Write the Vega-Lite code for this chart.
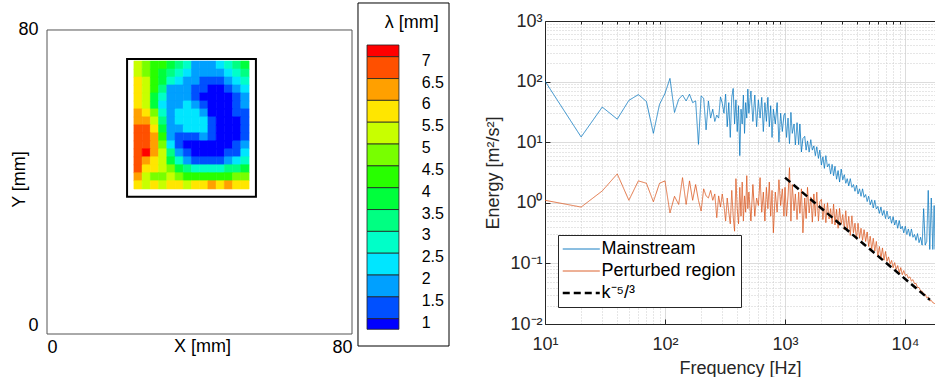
{
"$schema": "https://vega.github.io/schema/vega-lite/v6.json",
"autosize": {"type": "pad"},
"padding": {"left": 10, "top": 2, "right": 0, "bottom": 0},
"background": "white",
"bounds": "flush",
"spacing": 0,
"config": {"font": "Liberation Sans", "view": {"stroke": null}, "axis": {"labelFont": "Liberation Sans", "titleFont": "Liberation Sans", "titleFontWeight": "normal"}},
"datasets": {
"heat": [
{"x":23.88,"y":70.75,"v":5.2},{"x":26.04,"y":70.75,"v":4.8},{"x":28.19,"y":70.75,"v":4.3},{"x":30.35,"y":70.75,"v":4.0},{"x":32.51,"y":70.75,"v":3.6},{"x":34.67,"y":70.75,"v":3.1},{"x":36.82,"y":70.75,"v":2.6},{"x":38.98,"y":70.75,"v":1.9},{"x":41.14,"y":70.75,"v":1.8},{"x":43.29,"y":70.75,"v":1.9},{"x":45.45,"y":70.75,"v":2.3},{"x":47.61,"y":70.75,"v":2.8},{"x":49.77,"y":70.75,"v":3.3},{"x":51.92,"y":70.75,"v":3.8},
{"x":23.88,"y":68.65,"v":5.4},{"x":26.04,"y":68.65,"v":4.9},{"x":28.19,"y":68.65,"v":4.4},{"x":30.35,"y":68.65,"v":3.8},{"x":32.51,"y":68.65,"v":3.2},{"x":34.67,"y":68.65,"v":2.7},{"x":36.82,"y":68.65,"v":2.2},{"x":38.98,"y":68.65,"v":1.8},{"x":41.14,"y":68.65,"v":1.6},{"x":43.29,"y":68.65,"v":1.6},{"x":45.45,"y":68.65,"v":1.8},{"x":47.61,"y":68.65,"v":2.2},{"x":49.77,"y":68.65,"v":2.8},{"x":51.92,"y":68.65,"v":3.4},
{"x":23.88,"y":66.55,"v":5.7},{"x":26.04,"y":66.55,"v":5.1},{"x":28.19,"y":66.55,"v":4.4},{"x":30.35,"y":66.55,"v":3.5},{"x":32.51,"y":66.55,"v":2.8},{"x":34.67,"y":66.55,"v":2.1},{"x":36.82,"y":66.55,"v":1.7},{"x":38.98,"y":66.55,"v":1.6},{"x":41.14,"y":66.55,"v":1.3},{"x":43.29,"y":66.55,"v":1.2},{"x":45.45,"y":66.55,"v":1.3},{"x":47.61,"y":66.55,"v":1.7},{"x":49.77,"y":66.55,"v":2.2},{"x":51.92,"y":66.55,"v":2.8},
{"x":23.88,"y":64.45,"v":5.8},{"x":26.04,"y":64.45,"v":5.2},{"x":28.19,"y":64.45,"v":4.3},{"x":30.35,"y":64.45,"v":3.0},{"x":32.51,"y":64.45,"v":1.9},{"x":34.67,"y":64.45,"v":1.7},{"x":36.82,"y":64.45,"v":1.6},{"x":38.98,"y":64.45,"v":1.4},{"x":41.14,"y":64.45,"v":1.2},{"x":43.29,"y":64.45,"v":0.9},{"x":45.45,"y":64.45,"v":0.9},{"x":47.61,"y":64.45,"v":1.2},{"x":49.77,"y":64.45,"v":1.8},{"x":51.92,"y":64.45,"v":2.3},
{"x":23.88,"y":62.35,"v":5.8},{"x":26.04,"y":62.35,"v":5.0},{"x":28.19,"y":62.35,"v":3.9},{"x":30.35,"y":62.35,"v":2.6},{"x":32.51,"y":62.35,"v":1.8},{"x":34.67,"y":62.35,"v":1.7},{"x":36.82,"y":62.35,"v":1.7},{"x":38.98,"y":62.35,"v":1.4},{"x":41.14,"y":62.35,"v":0.95},{"x":43.29,"y":62.35,"v":0.8},{"x":45.45,"y":62.35,"v":0.8},{"x":47.61,"y":62.35,"v":0.9},{"x":49.77,"y":62.35,"v":1.3},{"x":51.92,"y":62.35,"v":1.8},
{"x":23.88,"y":60.25,"v":5.7},{"x":26.04,"y":60.25,"v":5.0},{"x":28.19,"y":60.25,"v":3.5},{"x":30.35,"y":60.25,"v":2.3},{"x":32.51,"y":60.25,"v":1.7},{"x":34.67,"y":60.25,"v":1.8},{"x":36.82,"y":60.25,"v":2.0},{"x":38.98,"y":60.25,"v":1.7},{"x":41.14,"y":60.25,"v":1.2},{"x":43.29,"y":60.25,"v":0.8},{"x":45.45,"y":60.25,"v":0.7},{"x":47.61,"y":60.25,"v":0.8},{"x":49.77,"y":60.25,"v":1.1},{"x":51.92,"y":60.25,"v":1.6},
{"x":23.88,"y":58.15,"v":6.1},{"x":26.04,"y":58.15,"v":5.6},{"x":28.19,"y":58.15,"v":4.5},{"x":30.35,"y":58.15,"v":2.8},{"x":32.51,"y":58.15,"v":1.8},{"x":34.67,"y":58.15,"v":2.1},{"x":36.82,"y":58.15,"v":2.4},{"x":38.98,"y":58.15,"v":2.3},{"x":41.14,"y":58.15,"v":1.6},{"x":43.29,"y":58.15,"v":0.9},{"x":45.45,"y":58.15,"v":0.7},{"x":47.61,"y":58.15,"v":0.7},{"x":49.77,"y":58.15,"v":1.0},{"x":51.92,"y":58.15,"v":1.4},
{"x":23.88,"y":56.05,"v":6.4},{"x":26.04,"y":56.05,"v":6.2},{"x":28.19,"y":56.05,"v":5.2},{"x":30.35,"y":56.05,"v":3.3},{"x":32.51,"y":56.05,"v":1.8},{"x":34.67,"y":56.05,"v":2.3},{"x":36.82,"y":56.05,"v":2.4},{"x":38.98,"y":56.05,"v":2.3},{"x":41.14,"y":56.05,"v":2.0},{"x":43.29,"y":56.05,"v":1.2},{"x":45.45,"y":56.05,"v":0.7},{"x":47.61,"y":56.05,"v":0.7},{"x":49.77,"y":56.05,"v":0.9},{"x":51.92,"y":56.05,"v":1.3},
{"x":23.88,"y":53.95,"v":6.8},{"x":26.04,"y":53.95,"v":6.6},{"x":28.19,"y":53.95,"v":5.6},{"x":30.35,"y":53.95,"v":3.6},{"x":32.51,"y":53.95,"v":1.5},{"x":34.67,"y":53.95,"v":1.6},{"x":36.82,"y":53.95,"v":2.2},{"x":38.98,"y":53.95,"v":2.3},{"x":41.14,"y":53.95,"v":2.2},{"x":43.29,"y":53.95,"v":1.3},{"x":45.45,"y":53.95,"v":0.8},{"x":47.61,"y":53.95,"v":0.7},{"x":49.77,"y":53.95,"v":0.9},{"x":51.92,"y":53.95,"v":1.3},
{"x":23.88,"y":51.85,"v":6.9},{"x":26.04,"y":51.85,"v":6.8},{"x":28.19,"y":51.85,"v":6.0},{"x":30.35,"y":51.85,"v":4.0},{"x":32.51,"y":51.85,"v":1.8},{"x":34.67,"y":51.85,"v":1.2},{"x":36.82,"y":51.85,"v":1.2},{"x":38.98,"y":51.85,"v":1.4},{"x":41.14,"y":51.85,"v":1.5},{"x":43.29,"y":51.85,"v":1.0},{"x":45.45,"y":51.85,"v":0.8},{"x":47.61,"y":51.85,"v":0.7},{"x":49.77,"y":51.85,"v":0.9},{"x":51.92,"y":51.85,"v":1.4},
{"x":23.88,"y":49.75,"v":6.9},{"x":26.04,"y":49.75,"v":6.9},{"x":28.19,"y":49.75,"v":6.3},{"x":30.35,"y":49.75,"v":4.6},{"x":32.51,"y":49.75,"v":2.3},{"x":34.67,"y":49.75,"v":1.3},{"x":36.82,"y":49.75,"v":0.9},{"x":38.98,"y":49.75,"v":0.8},{"x":41.14,"y":49.75,"v":0.8},{"x":43.29,"y":49.75,"v":0.8},{"x":45.45,"y":49.75,"v":0.7},{"x":47.61,"y":49.75,"v":0.8},{"x":49.77,"y":49.75,"v":1.0},{"x":51.92,"y":49.75,"v":1.6},
{"x":23.88,"y":47.65,"v":6.8},{"x":26.04,"y":47.65,"v":7.2},{"x":28.19,"y":47.65,"v":6.2},{"x":30.35,"y":47.65,"v":5.0},{"x":32.51,"y":47.65,"v":3.0},{"x":34.67,"y":47.65,"v":1.6},{"x":36.82,"y":47.65,"v":1.1},{"x":38.98,"y":47.65,"v":0.9},{"x":41.14,"y":47.65,"v":0.9},{"x":43.29,"y":47.65,"v":0.9},{"x":45.45,"y":47.65,"v":0.9},{"x":47.61,"y":47.65,"v":1.0},{"x":49.77,"y":47.65,"v":1.3},{"x":51.92,"y":47.65,"v":2.0},
{"x":23.88,"y":45.55,"v":6.7},{"x":26.04,"y":45.55,"v":6.4},{"x":28.19,"y":45.55,"v":5.9},{"x":30.35,"y":45.55,"v":5.3},{"x":32.51,"y":45.55,"v":3.8},{"x":34.67,"y":45.55,"v":2.6},{"x":36.82,"y":45.55,"v":1.8},{"x":38.98,"y":45.55,"v":1.4},{"x":41.14,"y":45.55,"v":1.3},{"x":43.29,"y":45.55,"v":1.3},{"x":45.45,"y":45.55,"v":1.4},{"x":47.61,"y":45.55,"v":1.6},{"x":49.77,"y":45.55,"v":2.0},{"x":51.92,"y":45.55,"v":2.6},
{"x":23.88,"y":43.45,"v":6.5},{"x":26.04,"y":43.45,"v":5.8},{"x":28.19,"y":43.45,"v":5.5},{"x":30.35,"y":43.45,"v":5.2},{"x":32.51,"y":43.45,"v":4.6},{"x":34.67,"y":43.45,"v":3.9},{"x":36.82,"y":43.45,"v":3.3},{"x":38.98,"y":43.45,"v":2.9},{"x":41.14,"y":43.45,"v":2.7},{"x":43.29,"y":43.45,"v":2.7},{"x":45.45,"y":43.45,"v":2.9},{"x":47.61,"y":43.45,"v":3.1},{"x":49.77,"y":43.45,"v":3.4},{"x":51.92,"y":43.45,"v":3.7},
{"x":23.88,"y":41.35,"v":6.2},{"x":26.04,"y":41.35,"v":5.0},{"x":28.19,"y":41.35,"v":4.8},{"x":30.35,"y":41.35,"v":4.6},{"x":32.51,"y":41.35,"v":5.0},{"x":34.67,"y":41.35,"v":4.6},{"x":36.82,"y":41.35,"v":4.3},{"x":38.98,"y":41.35,"v":4.1},{"x":41.14,"y":41.35,"v":4.0},{"x":43.29,"y":41.35,"v":4.0},{"x":45.45,"y":41.35,"v":4.2},{"x":47.61,"y":41.35,"v":4.4},{"x":49.77,"y":41.35,"v":4.6},{"x":51.92,"y":41.35,"v":4.9},
{"x":23.88,"y":39.25,"v":5.8},{"x":26.04,"y":39.25,"v":5.3},{"x":28.19,"y":39.25,"v":5.6},{"x":30.35,"y":39.25,"v":5.2},{"x":32.51,"y":39.25,"v":5.6},{"x":34.67,"y":39.25,"v":5.8},{"x":36.82,"y":39.25,"v":5.3},{"x":38.98,"y":39.25,"v":5.5},{"x":41.14,"y":39.25,"v":5.8},{"x":43.29,"y":39.25,"v":6.1},{"x":45.45,"y":39.25,"v":5.7},{"x":47.61,"y":39.25,"v":6.2},{"x":49.77,"y":39.25,"v":5.6},{"x":51.92,"y":39.25,"v":5.9}
],
"bar": [
{"lo":7,"hi":7.268},{"lo":6.5,"hi":7},{"lo":6,"hi":6.5},{"lo":5.5,"hi":6},{"lo":5,"hi":5.5},{"lo":4.5,"hi":5},{"lo":4,"hi":4.5},{"lo":3.5,"hi":4},{"lo":3,"hi":3.5},{"lo":2.5,"hi":3},{"lo":2,"hi":2.5},{"lo":1.5,"hi":2},{"lo":1,"hi":1.5},{"lo":0.758,"hi":1}
],
"ticks": [
{"t":"7","v":7},{"t":"6.5","v":6.5},{"t":"6","v":6},{"t":"5.5","v":5.5},{"t":"5","v":5},{"t":"4.5","v":4.5},{"t":"4","v":4},{"t":"3.5","v":3.5},{"t":"3","v":3},{"t":"2.5","v":2.5},{"t":"2","v":2},{"t":"1.5","v":1.5},{"t":"1","v":1}
],
"slope": [
{"f":1000,"E":2.6,"series":"k⁻⁵/³"},{"f":16150,"E":0.025,"series":"k⁻⁵/³"}
],
"spec": [
{"f":10,"Mainstream":102,"Perturbed region":1.1},
{"f":20,"Mainstream":12.2,"Perturbed region":0.85},
{"f":30,"Mainstream":38,"Perturbed region":1.57},
{"f":40,"Mainstream":24,"Perturbed region":3.0},
{"f":50,"Mainstream":49,"Perturbed region":1.1},
{"f":60,"Mainstream":61,"Perturbed region":2.3},
{"f":70,"Mainstream":47,"Perturbed region":2.1},
{"f":80,"Mainstream":14,"Perturbed region":1.04},
{"f":90,"Mainstream":42,"Perturbed region":2.1},
{"f":100,"Mainstream":64,"Perturbed region":2.3},
{"f":110,"Mainstream":113,"Perturbed region":0.68},
{"f":120,"Mainstream":31,"Perturbed region":1.28},
{"f":130,"Mainstream":51,"Perturbed region":0.94},
{"f":140,"Mainstream":60,"Perturbed region":2.6},
{"f":150,"Mainstream":48,"Perturbed region":0.94},
{"f":160,"Mainstream":62,"Perturbed region":2.3},
{"f":170,"Mainstream":45,"Perturbed region":1.1},
{"f":180,"Mainstream":48,"Perturbed region":2.0},
{"f":190,"Mainstream":9.2,"Perturbed region":1.1},
{"f":200,"Mainstream":58,"Perturbed region":0.73},
{"f":210,"Mainstream":53,"Perturbed region":1.7},
{"f":220,"Mainstream":16,"Perturbed region":1.3},
{"f":230,"Mainstream":48,"Perturbed region":1.2},
{"f":240,"Mainstream":25,"Perturbed region":1.6},
{"f":250,"Mainstream":35,"Perturbed region":1.1},
{"f":260,"Mainstream":22,"Perturbed region":1.4},
{"f":270,"Mainstream":28,"Perturbed region":0.57},
{"f":280,"Mainstream":25,"Perturbed region":1.3},
{"f":290,"Mainstream":56,"Perturbed region":0.85},
{"f":300,"Mainstream":44,"Perturbed region":1.4},
{"f":310,"Mainstream":30,"Perturbed region":0.9},
{"f":320,"Mainstream":62,"Perturbed region":0.5},
{"f":330,"Mainstream":18,"Perturbed region":1.2},
{"f":340,"Mainstream":45,"Perturbed region":0.7},
{"f":350,"Mainstream":12,"Perturbed region":0.45},
{"f":360,"Mainstream":55,"Perturbed region":1.6},
{"f":370,"Mainstream":77,"Perturbed region":0.6},
{"f":380,"Mainstream":20,"Perturbed region":0.34},
{"f":390,"Mainstream":50,"Perturbed region":2.5},
{"f":400,"Mainstream":15,"Perturbed region":0.8},
{"f":410,"Mainstream":40,"Perturbed region":0.45},
{"f":420,"Mainstream":6,"Perturbed region":1.8},
{"f":430,"Mainstream":35,"Perturbed region":0.6},
{"f":440,"Mainstream":20,"Perturbed region":2.2},
{"f":450,"Mainstream":60,"Perturbed region":0.5},
{"f":460,"Mainstream":14,"Perturbed region":1.3},
{"f":470,"Mainstream":45,"Perturbed region":0.7},
{"f":480,"Mainstream":25,"Perturbed region":2.8},
{"f":490,"Mainstream":75,"Perturbed region":0.8},
{"f":500,"Mainstream":30,"Perturbed region":1.5},
{"f":520,"Mainstream":70,"Perturbed region":0.5},
{"f":540,"Mainstream":22,"Perturbed region":2.0},
{"f":560,"Mainstream":60,"Perturbed region":0.6},
{"f":580,"Mainstream":18,"Perturbed region":1.2},
{"f":600,"Mainstream":50,"Perturbed region":0.9},
{"f":620,"Mainstream":25,"Perturbed region":2.6},
{"f":640,"Mainstream":55,"Perturbed region":0.7},
{"f":660,"Mainstream":15,"Perturbed region":1.5},
{"f":680,"Mainstream":45,"Perturbed region":0.5},
{"f":700,"Mainstream":22,"Perturbed region":1.8},
{"f":720,"Mainstream":55,"Perturbed region":0.8},
{"f":740,"Mainstream":18,"Perturbed region":2.2},
{"f":760,"Mainstream":40,"Perturbed region":0.6},
{"f":780,"Mainstream":12,"Perturbed region":1.6},
{"f":800,"Mainstream":35,"Perturbed region":0.32},
{"f":830,"Mainstream":20,"Perturbed region":1.5},
{"f":860,"Mainstream":45,"Perturbed region":0.7},
{"f":890,"Mainstream":10,"Perturbed region":2.4},
{"f":920,"Mainstream":30,"Perturbed region":0.9},
{"f":950,"Mainstream":15,"Perturbed region":1.7},
{"f":980,"Mainstream":28,"Perturbed region":0.6},
{"f":1000,"Mainstream":30,"Perturbed region":1.8},
{"f":1030,"Mainstream":12,"Perturbed region":0.6},
{"f":1060,"Mainstream":25,"Perturbed region":1.3},
{"f":1090,"Mainstream":9.5,"Perturbed region":3.8},
{"f":1120,"Mainstream":31,"Perturbed region":0.5},
{"f":1150,"Mainstream":14,"Perturbed region":2.0},
{"f":1190,"Mainstream":20,"Perturbed region":0.74},
{"f":1220,"Mainstream":9,"Perturbed region":1.4},
{"f":1260,"Mainstream":21,"Perturbed region":0.53},
{"f":1300,"Mainstream":9.1,"Perturbed region":1.5},
{"f":1330,"Mainstream":20,"Perturbed region":0.67},
{"f":1370,"Mainstream":6.9,"Perturbed region":1.7},
{"f":1410,"Mainstream":11.5,"Perturbed region":0.32},
{"f":1460,"Mainstream":12.5,"Perturbed region":1.2},
{"f":1500,"Mainstream":7.4,"Perturbed region":0.55},
{"f":1540,"Mainstream":10.5,"Perturbed region":1.8},
{"f":1590,"Mainstream":6.9,"Perturbed region":0.68},
{"f":1640,"Mainstream":11,"Perturbed region":1.25},
{"f":1690,"Mainstream":7.4,"Perturbed region":0.48},
{"f":1740,"Mainstream":8.7,"Perturbed region":1.4},
{"f":1790,"Mainstream":6.0,"Perturbed region":0.6},
{"f":1840,"Mainstream":8.4,"Perturbed region":1.5},
{"f":1900,"Mainstream":5.4,"Perturbed region":0.5},
{"f":1950,"Mainstream":7.4,"Perturbed region":1.04},
{"f":2010,"Mainstream":4.2,"Perturbed region":1.14},
{"f":2070,"Mainstream":5.75,"Perturbed region":0.53},
{"f":2130,"Mainstream":3.7,"Perturbed region":0.96},
{"f":2190,"Mainstream":6.0,"Perturbed region":0.47},
{"f":2260,"Mainstream":3.9,"Perturbed region":1.0},
{"f":2330,"Mainstream":4.4,"Perturbed region":0.54},
{"f":2400,"Mainstream":3.0,"Perturbed region":0.8},
{"f":2470,"Mainstream":4.3,"Perturbed region":0.45},
{"f":2540,"Mainstream":2.8,"Perturbed region":0.95},
{"f":2610,"Mainstream":4.0,"Perturbed region":0.43},
{"f":2690,"Mainstream":2.45,"Perturbed region":0.78},
{"f":2770,"Mainstream":3.4,"Perturbed region":0.38},
{"f":2850,"Mainstream":2.2,"Perturbed region":0.81},
{"f":2940,"Mainstream":3.6,"Perturbed region":0.44},
{"f":3030,"Mainstream":2.4,"Perturbed region":0.64},
{"f":3120,"Mainstream":2.9,"Perturbed region":0.36},
{"f":3210,"Mainstream":2.1,"Perturbed region":0.74},
{"f":3300,"Mainstream":2.5,"Perturbed region":0.34},
{"f":3400,"Mainstream":1.9,"Perturbed region":0.6},
{"f":3500,"Mainstream":2.5,"Perturbed region":0.29},
{"f":3610,"Mainstream":1.8,"Perturbed region":0.61},
{"f":3720,"Mainstream":2.0,"Perturbed region":0.32},
{"f":3830,"Mainstream":1.55,"Perturbed region":0.46},
{"f":3940,"Mainstream":1.95,"Perturbed region":0.25},
{"f":4060,"Mainstream":1.4,"Perturbed region":0.46},
{"f":4180,"Mainstream":1.7,"Perturbed region":0.26},
{"f":4300,"Mainstream":1.28,"Perturbed region":0.38},
{"f":4430,"Mainstream":1.7,"Perturbed region":0.24},
{"f":4560,"Mainstream":1.23,"Perturbed region":0.36},
{"f":4700,"Mainstream":1.37,"Perturbed region":0.23},
{"f":4840,"Mainstream":1.05,"Perturbed region":0.33},
{"f":4980,"Mainstream":1.29,"Perturbed region":0.19},
{"f":5130,"Mainstream":0.93,"Perturbed region":0.28},
{"f":5280,"Mainstream":1.12,"Perturbed region":0.17},
{"f":5440,"Mainstream":0.82,"Perturbed region":0.26},
{"f":5600,"Mainstream":1.1,"Perturbed region":0.16},
{"f":5770,"Mainstream":0.79,"Perturbed region":0.23},
{"f":5940,"Mainstream":0.87,"Perturbed region":0.13},
{"f":6120,"Mainstream":0.67,"Perturbed region":0.19},
{"f":6300,"Mainstream":0.85,"Perturbed region":0.12},
{"f":6490,"Mainstream":0.62,"Perturbed region":0.18},
{"f":6680,"Mainstream":0.75,"Perturbed region":0.113},
{"f":6880,"Mainstream":0.55,"Perturbed region":0.157},
{"f":7080,"Mainstream":0.73,"Perturbed region":0.108},
{"f":7290,"Mainstream":0.54,"Perturbed region":0.128},
{"f":7510,"Mainstream":0.6,"Perturbed region":0.097},
{"f":7730,"Mainstream":0.46,"Perturbed region":0.112},
{"f":7960,"Mainstream":0.59,"Perturbed region":0.085},
{"f":8200,"Mainstream":0.43,"Perturbed region":0.103},
{"f":8440,"Mainstream":0.52,"Perturbed region":0.079},
{"f":8690,"Mainstream":0.38,"Perturbed region":0.092},
{"f":8950,"Mainstream":0.51,"Perturbed region":0.07},
{"f":9220,"Mainstream":0.37,"Perturbed region":0.085},
{"f":9490,"Mainstream":0.41,"Perturbed region":0.065},
{"f":9770,"Mainstream":0.32,"Perturbed region":0.076},
{"f":10060,"Mainstream":0.41,"Perturbed region":0.063},
{"f":10360,"Mainstream":0.3,"Perturbed region":0.066},
{"f":10670,"Mainstream":0.37,"Perturbed region":0.057},
{"f":10990,"Mainstream":0.28,"Perturbed region":0.06},
{"f":11310,"Mainstream":0.37,"Perturbed region":0.051},
{"f":11650,"Mainstream":0.27,"Perturbed region":0.054},
{"f":12000,"Mainstream":0.3,"Perturbed region":0.046},
{"f":12350,"Mainstream":0.24,"Perturbed region":0.047},
{"f":12720,"Mainstream":0.31,"Perturbed region":0.04},
{"f":13100,"Mainstream":0.22,"Perturbed region":0.04},
{"f":13490,"Mainstream":0.27,"Perturbed region":0.035},
{"f":13890,"Mainstream":0.2,"Perturbed region":0.035},
{"f":14300,"Mainstream":0.8,"Perturbed region":0.031},
{"f":14730,"Mainstream":0.2,"Perturbed region":0.031},
{"f":15170,"Mainstream":0.23,"Perturbed region":0.027},
{"f":15620,"Mainstream":1.6,"Perturbed region":0.028},
{"f":16080,"Mainstream":0.17,"Perturbed region":0.024},
{"f":16560,"Mainstream":1.2,"Perturbed region":0.0245},
{"f":17050,"Mainstream":0.17,"Perturbed region":0.0225},
{"f":17500,"Mainstream":0.9,"Perturbed region":0.022},
{"f":17780,"Mainstream":0.17,"Perturbed region":0.0215}
]
},
"hconcat": [
{
"width": 305, "height": 313,
"data": {"values": [{}]},
"layer": [
{"data": {"name": "heat"},
 "mark": {"type": "square", "size": 68, "opacity": 1, "strokeWidth": 0.6},
 "encoding": {
  "x": {"field": "x", "type": "quantitative", "scale": {"domain": [0, 80], "nice": false, "zero": false},
   "axis": {"values": [0, 80], "labelFlush": true, "ticks": false, "domain": false, "grid": false, "labelPadding": 4, "labelFontSize": 18, "labelColor": "#000", "title": "X [mm]", "titleFontSize": 18, "titleColor": "#000", "titleX": 155, "titleY": 3, "titleBaseline": "top"}},
  "y": {"field": "y", "type": "quantitative", "scale": {"domain": [0, 82.368], "nice": false, "zero": false},
   "axis": {"values": [0, 80], "ticks": false, "domain": false, "grid": false, "labelPadding": 9, "labelFontSize": 18, "labelColor": "#000", "labelBaseline": {"condition": {"test": "datum.value === 0", "value": "bottom"}, "value": "middle"}, "title": "Y [mm]", "titleFontSize": 18, "titleColor": "#000", "titleX": -28, "titleY": 158, "titleBaseline": "middle"}},
  "fill": {"field": "v", "type": "quantitative", "scale": {"type": "threshold", "domain": [1,1.5,2,2.5,3,3.5,4,4.5,5,5.5,6,6.5,7], "range": ["#0000FF","#0050FF","#00A0FF","#00E6FF","#00FFC8","#00FF82","#00FF3C","#28FF00","#78FF00","#C8FF00","#FFE600","#FFA000","#FF5000","#FF0000"]}, "legend": null},
  "stroke": {"field": "v", "type": "quantitative", "scale": {"type": "threshold", "domain": [1,1.5,2,2.5,3,3.5,4,4.5,5,5.5,6,6.5,7], "range": ["#0000FF","#0050FF","#00A0FF","#00E6FF","#00FFC8","#00FF82","#00FF3C","#28FF00","#78FF00","#C8FF00","#FFE600","#FFA000","#FF5000","#FF0000"]}, "legend": null}
 }},
{"mark": {"type": "rect", "fill": null, "stroke": "#555555", "strokeWidth": 1},
 "encoding": {"x": {"datum": 0, "type": "quantitative"}, "x2": {"datum": 80}, "y": {"datum": 0, "type": "quantitative"}, "y2": {"datum": 80}}},
{"mark": {"type": "rect", "fill": null, "stroke": "#000000", "strokeWidth": 2},
 "encoding": {"x": {"datum": 21, "type": "quantitative"}, "x2": {"datum": 54.8}, "y": {"datum": 36.1, "type": "quantitative"}, "y2": {"datum": 72.4}}}
]
},
{
"width": 193, "height": 313,
"layer": [
{"data": {"values": [{}]},
 "mark": {"type": "rect", "fill": "white", "stroke": "#000000", "strokeWidth": 1},
 "encoding": {
  "x": {"datum": 0, "type": "quantitative", "scale": {"domain": [-0.0659, 2.0549], "nice": false, "zero": false}, "axis": null},
  "x2": {"datum": 1},
  "y": {"datum": 0.375, "type": "quantitative", "scale": {"domain": [0.65, 7.8175], "nice": false, "zero": false}, "axis": null},
  "y2": {"datum": 8.23}
 }},
{"data": {"name": "bar"},
 "mark": {"type": "rect", "stroke": "#222222", "strokeWidth": 0.8},
 "encoding": {
  "x": {"datum": 0.099, "type": "quantitative"}, "x2": {"datum": 0.45},
  "y": {"field": "lo", "type": "quantitative"}, "y2": {"field": "hi"},
  "fill": {"field": "lo", "type": "quantitative", "scale": {"type": "threshold", "domain": [1,1.5,2,2.5,3,3.5,4,4.5,5,5.5,6,6.5,7], "range": ["#0000FF","#0050FF","#00A0FF","#00E6FF","#00FFC8","#00FF82","#00FF3C","#28FF00","#78FF00","#C8FF00","#FFE600","#FFA000","#FF5000","#FF0000"]}, "legend": null}
 }},
{"data": {"name": "ticks"},
 "mark": {"type": "text", "align": "left", "baseline": "middle", "fontSize": 16, "dy": 4, "color": "#000000"},
 "encoding": {"x": {"datum": 0.70, "type": "quantitative"}, "y": {"field": "v", "type": "quantitative"}, "text": {"field": "t"}}},
{"data": {"values": [{"t": "λ [mm]"}]},
 "mark": {"type": "text", "align": "center", "baseline": "middle", "fontSize": 18, "color": "#000000"},
 "encoding": {"x": {"datum": 0.59, "type": "quantitative"}, "y": {"datum": 7.772, "type": "quantitative"}, "text": {"field": "t"}}}
]
},
{
"width": 390, "height": 303,
"layer": [
{"data": {"name": "spec"},
 "transform": [{"fold": ["Mainstream", "Perturbed region"], "as": ["series", "E"]}],
 "mark": {"type": "line", "clip": true, "strokeWidth": 0.8},
 "encoding": {
  "x": {"field": "f", "type": "quantitative", "scale": {"type": "log", "domain": [10, 17783], "nice": false},
   "axis": {"values": [10, 100, 1000, 10000], "labelExpr": "datum.value < 50 ? '10¹' : datum.value < 500 ? '10²' : datum.value < 5000 ? '10³' : '10⁴'", "title": "Frequency [Hz]", "titleFontSize": 18, "titleColor": "#262626", "labelFontSize": 18, "labelColor": "#262626", "grid": true, "gridColor": "#dcdcdc", "domainColor": "#262626", "tickColor": "#262626", "tickSize": -5, "labelPadding": 16, "titlePadding": 6, "labelFlush": false}},
  "y": {"field": "E", "type": "quantitative", "scale": {"type": "log", "domain": [0.01, 1000], "nice": false},
   "axis": {"values": [0.01, 0.1, 1, 10, 100, 1000], "labelExpr": "datum.value < 0.05 ? '10⁻²' : datum.value < 0.5 ? '10⁻¹' : datum.value < 5 ? '10⁰' : datum.value < 50 ? '10¹' : datum.value < 500 ? '10²' : '10³'", "title": "Energy [m²/s²]", "titleFontSize": 18, "titleColor": "#262626", "labelFontSize": 18, "labelColor": "#262626", "grid": true, "gridColor": "#dcdcdc", "domainColor": "#262626", "tickColor": "#262626", "tickSize": -5, "labelPadding": 8, "titlePadding": 7, "labelFlush": false}},
  "color": {"field": "series", "type": "nominal", "scale": {"domain": ["Mainstream", "Perturbed region", "k⁻⁵/³"], "range": ["#0072BD", "#D95319", "#000000"]},
   "legend": {"title": null, "orient": "none", "legendX": 511, "legendY": 214, "fillColor": "#ffffff", "strokeColor": "#262626", "padding": 5, "symbolType": "M-1,0H3", "symbolSize": 342, "labelFontSize": 18, "labelColor": "#000000", "labelOffset": 20.5, "rowPadding": 4, "labelLimit": 300,
    "encode": {"symbols": {"update": {"strokeWidth": {"signal": "datum.value === 'k⁻⁵/³' ? 2.5 : 1"}, "fill": {"value": "transparent"}}}}}},
  "strokeDash": {"field": "series", "type": "nominal", "scale": {"domain": ["Mainstream", "Perturbed region", "k⁻⁵/³"], "range": [[1, 0], [1, 0], [7, 4]]}}
 }},
{"data": {"name": "slope"},
 "mark": {"type": "line", "strokeWidth": 2.5},
 "encoding": {
  "x": {"field": "f", "type": "quantitative", "axis": null},
  "y": {"field": "E", "type": "quantitative", "axis": null},
  "color": {"field": "series", "type": "nominal"},
  "strokeDash": {"field": "series", "type": "nominal"}
 }},
{"data": {"values": [{"f": 100, "E": 1}]},
 "mark": {"type": "point", "opacity": 0},
 "encoding": {
  "x": {"field": "f", "type": "quantitative", "axis": {"orient": "top", "values": [20,30,40,50,60,70,80,90,200,300,400,500,600,700,800,900,2000,3000,4000,5000,6000,7000,8000,9000], "labels": false, "ticks": true, "tickSize": -3, "tickColor": "#262626", "domain": true, "domainColor": "#262626", "grid": true, "gridDash": [1, 2], "gridColor": "#cccccc", "title": null}},
  "y": {"field": "E", "type": "quantitative", "axis": {"orient": "right", "values": [0.02,0.03,0.04,0.05,0.06,0.07,0.08,0.09,0.2,0.3,0.4,0.5,0.6,0.7,0.8,0.9,2,3,4,5,6,7,8,9,20,30,40,50,60,70,80,90,200,300,400,500,600,700,800,900], "labels": false, "ticks": false, "domain": false, "grid": true, "gridDash": [1, 2], "gridColor": "#cccccc", "title": null}}
 }}
],
"resolve": {"axis": {"x": "independent", "y": "independent"}}
}
]
}
